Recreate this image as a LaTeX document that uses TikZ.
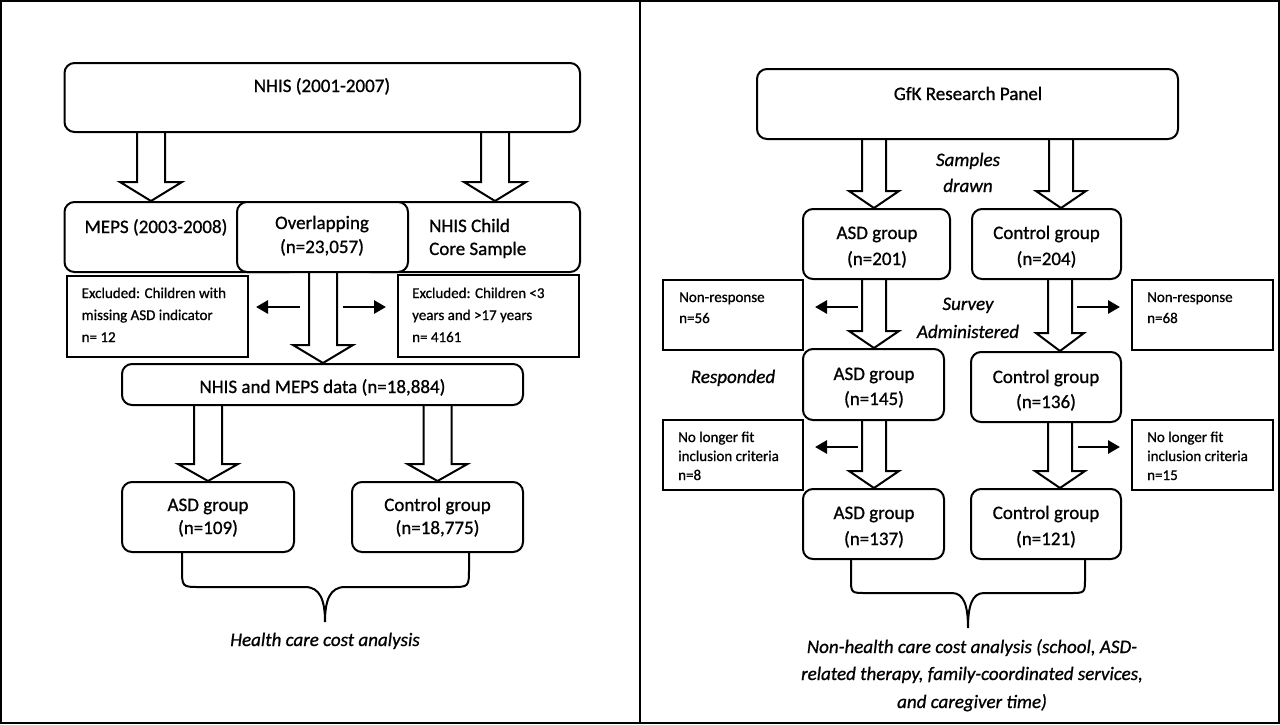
\documentclass[tikz,border=0pt]{standalone}
\usepackage{fontspec}
\setmainfont{Carlito}[FakeBold=0.9]
\usetikzlibrary{arrows.meta,calc}
\newcommand\hollowarr[6]{%
  \draw[harrow] (#1-#4,0 |- #2.south) -- ($(#1-#4,0 |- #3.north)+(0,-#6)$) -- ($(#1-#5,0 |- #3.north)+(0,-#6)$) -- (#1,0 |- #3.north) -- ($(#1+#5,0 |- #3.north)+(0,-#6)$) -- ($(#1+#4,0 |- #3.north)+(0,-#6)$) -- (#1+#4,0 |- #2.south);}
\begin{document}
\begin{tikzpicture}[x=1pt,y=-1pt,
  rbox/.style={draw, line width=2pt, rounded corners=10pt, fill=white, inner sep=0pt},
  sbox/.style={draw, line width=2pt, fill=white, inner sep=0pt},
  harrow/.style={draw, line width=2pt, line join=miter},
  sarr/.style={line width=2.8pt, -{Triangle[length=12pt,width=13pt]}},
  brace/.style={draw, line width=2pt},
  big/.style={inner sep=0pt, font=\fontsize{19}{23}\selectfont},
  bigit/.style={inner sep=0pt, font=\fontsize{19}{23}\selectfont\itshape},
  small/.style={inner sep=0pt, font=\fontsize{15}{18}\selectfont, anchor=base west}]
\useasboundingbox (0,0) rectangle (1280,724);
\draw[line width=2pt] (1,1) rectangle (1279,723);
\draw[line width=2pt] (640,0) -- (640,724);

% ---------- left panel ----------
\node[rbox, minimum width=515.5pt, minimum height=69pt] (nhis) at (322.25,97.5) {};
\node[big, anchor=base] (nhist) at (322,92) {NHIS (2001-2007)};
\node[rbox, minimum width=235pt, minimum height=70pt] (meps) at (182,237) {};
\node[rbox, minimum width=220pt, minimum height=70pt] (child) at (470,237) {};
\node[rbox, minimum width=171pt, minimum height=70pt] (overlap) at (322.5,237) {};
\node[big, anchor=base] (mepst) at (156,233) {MEPS (2003-2008)};
\node[big, anchor=base] (overt1) at (322,229) {Overlapping};
\node[big, anchor=base] (overt2) at (322,253) {(n=23,057)};
\node[big, anchor=base west] (childt1) at (429,232) {NHIS Child};
\node[big, anchor=base west] (childt2) at (429,255) {Core Sample};
\node[sbox, minimum width=181.5pt, minimum height=81pt] (exclL) at (157.25,316.5) {};
\node[small] (exclLt1) at (81.5,298) {Excluded: Children with};
\node[small] (exclLt2) at (81.5,320) {missing ASD indicator};
\node[small] (exclLt3) at (81.5,342) {n= 12};
\node[sbox, minimum width=181pt, minimum height=82pt] (exclR) at (488.5,316) {};
\node[small] (exclRt1) at (412,298) {Excluded: Children <3};
\node[small] (exclRt2) at (412,320) {years and >17 years};
\node[small] (exclRt3) at (412,342) {n= 4161};
\node[rbox, minimum width=401pt, minimum height=41pt] (data) at (322.5,384.5) {};
\node[big, anchor=base] (datat) at (322.5,393) {NHIS and MEPS data (n=18,884)};
\node[rbox, minimum width=172pt, minimum height=70pt] (asdL) at (208,517) {};
\node[big, anchor=base] (asdLt1) at (208,511) {ASD group};
\node[big, anchor=base] (asdLt2) at (208,534) {(n=109)};
\node[rbox, minimum width=171pt, minimum height=70pt] (ctrlL) at (437.5,517) {};
\node[big, anchor=base] (ctrlLt1) at (437.5,511) {Control group};
\node[big, anchor=base] (ctrlLt2) at (437.5,534) {(n=18,775)};
\node[bigit, anchor=base] (hca) at (325,646) {Health care cost analysis};

\hollowarr{151}{nhis}{meps}{14}{31}{19}
\hollowarr{495}{nhis}{child}{14}{31}{19}
\hollowarr{323}{overlap}{data}{14}{30}{18}
\hollowarr{208}{data}{asdL}{14}{30}{17}
\hollowarr{437.5}{data}{ctrlL}{14}{30}{17}

\coordinate (la1) at (300,307);
\coordinate (la2) at (343,307);
\draw[sarr, shorten >=7pt] (la1) -- (la1 -| exclL.east);
\draw[sarr, shorten >=11pt] (la2) -- (la2 -| exclR.west);

\draw[brace] (182,0 |- asdL.south) -- (182,568) .. controls (182,587) and (182,587) .. (200,587) -- (305,587) .. controls (320,587) and (325,600) .. (325,622) .. controls (325,600) and (330,587) .. (345,587) -- (451,587) .. controls (469,587) and (469,587) .. (469,568) -- (469,0 |- ctrlL.south);

% ---------- right panel ----------
\node[rbox, minimum width=421pt, minimum height=70pt] (gfk) at (967.5,104) {};
\node[big, anchor=base] (gfkt) at (968,100) {GfK Research Panel};
\node[bigit, anchor=base] (samp1) at (968,166) {Samples};
\node[bigit, anchor=base] (samp2) at (968,192) {drawn};
\node[rbox, minimum width=147pt, minimum height=70pt] (asd1) at (876.5,244) {};
\node[big, anchor=base] (asd1t1) at (877,239) {ASD group};
\node[big, anchor=base] (asd1t2) at (877,265) {(n=201)};
\node[rbox, minimum width=149pt, minimum height=70pt] (ctrl1) at (1046.5,244) {};
\node[big, anchor=base] (ctrl1t1) at (1046.5,239) {Control group};
\node[big, anchor=base] (ctrl1t2) at (1046.5,265) {(n=204)};
\node[sbox, minimum width=140pt, minimum height=70pt] (nrL) at (733,315) {};
\node[small] (nrLt1) at (679,302) {Non-response};
\node[small] (nrLt2) at (679,323) {n=56};
\node[sbox, minimum width=141pt, minimum height=70pt] (nrR) at (1202.5,315) {};
\node[small] (nrRt1) at (1147,302) {Non-response};
\node[small] (nrRt2) at (1147,323) {n=68};
\node[bigit, anchor=base] (surv1) at (968,310) {Survey};
\node[bigit, anchor=base] (surv2) at (968,338) {Administered};
\node[bigit, anchor=base] (resp) at (733,383) {Responded};
\node[rbox, minimum width=141pt, minimum height=71pt] (asd2) at (873.5,384.5) {};
\node[big, anchor=base] (asd2t1) at (874,380) {ASD group};
\node[big, anchor=base] (asd2t2) at (874,405) {(n=145)};
\node[rbox, minimum width=150pt, minimum height=70pt] (ctrl2) at (1046,387) {};
\node[big, anchor=base] (ctrl2t1) at (1046,383) {Control group};
\node[big, anchor=base] (ctrl2t2) at (1046,408) {(n=136)};
\node[sbox, minimum width=140pt, minimum height=70pt] (nlL) at (733,455) {};
\node[small] (nlLt1) at (678,442) {No longer fit};
\node[small] (nlLt2) at (678,461) {inclusion criteria};
\node[small] (nlLt3) at (678,480) {n=8};
\node[sbox, minimum width=141pt, minimum height=70pt] (nlR) at (1202.5,454.5) {};
\node[small] (nlRt1) at (1147,442) {No longer fit};
\node[small] (nlRt2) at (1147,461) {inclusion criteria};
\node[small] (nlRt3) at (1147,480) {n=15};
\node[rbox, minimum width=141pt, minimum height=70pt] (asd3) at (873.5,524) {};
\node[big, anchor=base] (asd3t1) at (874,519) {ASD group};
\node[big, anchor=base] (asd3t2) at (874,545) {(n=137)};
\node[rbox, minimum width=150pt, minimum height=70pt] (ctrl3) at (1046,524) {};
\node[big, anchor=base] (ctrl3t1) at (1046,519) {Control group};
\node[big, anchor=base] (ctrl3t2) at (1046,545) {(n=121)};
\node[bigit, anchor=base] (nh1) at (972,653) {Non-health care cost analysis (school, ASD-};
\node[bigit, anchor=base] (nh2) at (972,680) {related therapy, family-coordinated services,};
\node[bigit, anchor=base] (nh3) at (972,708) {and caregiver time)};

\hollowarr{874}{gfk}{asd1}{12}{25}{17}
\hollowarr{1061}{gfk}{ctrl1}{12}{25}{17}
\hollowarr{874}{asd1}{asd2}{12}{25}{17}
\hollowarr{1060}{ctrl1}{ctrl2}{12}{24}{18}
\hollowarr{874}{asd2}{asd3}{12}{25}{17}
\hollowarr{1060}{ctrl2}{ctrl3}{12}{25}{17}

\coordinate (ra1) at (858,307);
\coordinate (ra2) at (1077,307);
\coordinate (ra3) at (858,447);
\coordinate (ra4) at (1078,447);
\draw[sarr, shorten >=11pt] (ra1) -- (ra1 -| nrL.east);
\draw[sarr, shorten >=11pt] (ra2) -- (ra2 -| nrR.west);
\draw[sarr, shorten >=11pt] (ra3) -- (ra3 -| nlL.east);
\draw[sarr, shorten >=11pt] (ra4) -- (ra4 -| nlR.west);

\draw[brace] (851,0 |- asd3.south) -- (851,578) .. controls (851,593) and (851,593) .. (866,593) -- (952,593) .. controls (964,593) and (968,606) .. (968,628) .. controls (968,606) and (972,593) .. (984,593) -- (1070,593) .. controls (1085,593) and (1085,593) .. (1085,578) -- (1085,0 |- ctrl3.south);
\end{tikzpicture}
\end{document}
